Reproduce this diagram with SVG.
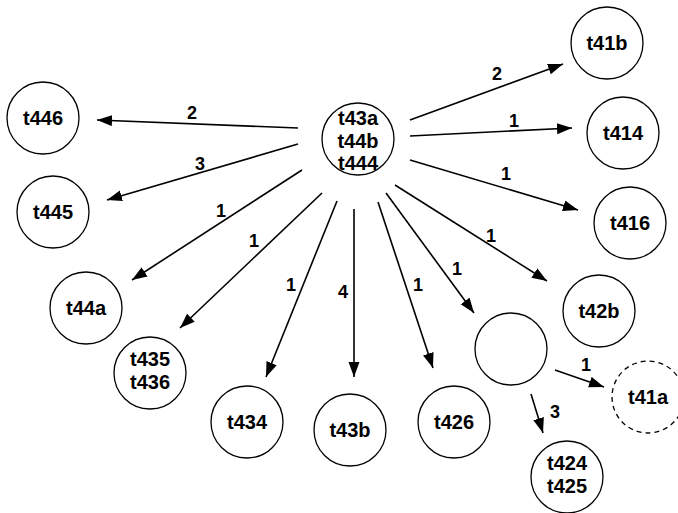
<svg xmlns="http://www.w3.org/2000/svg" width="678" height="513" viewBox="0 0 678 513">
<style>
.n{fill:#fff;stroke:#000;stroke-width:1.3}
.d{fill:#fff;stroke:#000;stroke-width:1.3;stroke-dasharray:5,4}
.t{font-family:"Liberation Sans",Arial,sans-serif;font-weight:bold;font-size:20px;text-anchor:middle;fill:#000}
.l{font-family:"Liberation Sans",Arial,sans-serif;font-weight:bold;font-size:18px;text-anchor:middle;fill:#000}
.e{stroke:#000;stroke-width:1.6;fill:none;marker-end:url(#ah)}
</style>
<defs>
<marker id="ah" markerUnits="userSpaceOnUse" markerWidth="16" markerHeight="12" refX="15" refY="5.5" orient="auto">
<path d="M0,0 L15,5.5 L0,11 z" fill="#000"/>
</marker>
</defs>
<g id="connectors">
<line class="e" x1="298" y1="128" x2="97" y2="120"/>
<line class="e" x1="298" y1="144" x2="107" y2="200"/>
<line class="e" x1="302" y1="170" x2="132" y2="280"/>
<line class="e" x1="322" y1="193" x2="180" y2="328"/>
<line class="e" x1="337" y1="201" x2="266" y2="377"/>
<line class="e" x1="354" y1="209" x2="354" y2="377"/>
<line class="e" x1="378" y1="202" x2="433" y2="368"/>
<line class="e" x1="386" y1="193" x2="474" y2="313"/>
<line class="e" x1="395" y1="185" x2="547" y2="281"/>
<line class="e" x1="410" y1="160" x2="578" y2="210"/>
<line class="e" x1="410" y1="136" x2="572" y2="128"/>
<line class="e" x1="410" y1="120" x2="563" y2="64"/>
<line class="e" x1="555" y1="370" x2="604" y2="387"/>
<line class="e" x1="531" y1="394" x2="543" y2="433"/>
<text class="l" x="192" y="119">2</text>
<text class="l" x="200" y="170">3</text>
<text class="l" x="221" y="217">1</text>
<text class="l" x="254" y="247">1</text>
<text class="l" x="291" y="291">1</text>
<text class="l" x="343" y="298">4</text>
<text class="l" x="418" y="291">1</text>
<text class="l" x="457" y="275">1</text>
<text class="l" x="491" y="242">1</text>
<text class="l" x="506" y="180">1</text>
<text class="l" x="514" y="127">1</text>
<text class="l" x="497" y="80">2</text>
<text class="l" x="586" y="371">1</text>
<text class="l" x="555" y="418">3</text>
</g>
<g id="center"><circle class="n" cx="358" cy="139" r="36"/><text class="t" x="358" y="125">t43a</text><text class="t" x="358" y="148">t44b</text><text class="t" x="358" y="170">t444</text></g>
<g id="t41b"><circle class="n" cx="607" cy="43" r="36"/><text class="t" x="607" y="50">t41b</text></g>
<g id="t414"><circle class="n" cx="623" cy="133" r="36"/><text class="t" x="623" y="140">t414</text></g>
<g id="t416"><circle class="n" cx="630" cy="223" r="36"/><text class="t" x="630" y="230">t416</text></g>
<g id="t446"><circle class="n" cx="43" cy="118" r="36"/><text class="t" x="43" y="125">t446</text></g>
<g id="t445"><circle class="n" cx="53" cy="212" r="36"/><text class="t" x="53" y="219">t445</text></g>
<g id="t44a"><circle class="n" cx="86" cy="308" r="36"/><text class="t" x="86" y="315">t44a</text></g>
<g id="t435"><circle class="n" cx="150" cy="373" r="36"/><text class="t" x="150" y="366">t435</text><text class="t" x="150" y="389">t436</text></g>
<g id="t434"><circle class="n" cx="247" cy="422" r="36"/><text class="t" x="247" y="429">t434</text></g>
<g id="t43b"><circle class="n" cx="350" cy="430" r="36"/><text class="t" x="350" y="437">t43b</text></g>
<g id="t426"><circle class="n" cx="454" cy="422" r="36"/><text class="t" x="454" y="429">t426</text></g>
<g id="empty"><circle class="n" cx="511" cy="349" r="36"/></g>
<g id="t42b"><circle class="n" cx="599" cy="311" r="36"/><text class="t" x="599" y="318">t42b</text></g>
<g id="t41a"><circle class="d" cx="648" cy="397" r="36"/><text class="t" x="648" y="404">t41a</text></g>
<g id="t424"><circle class="n" cx="567" cy="477" r="36"/><text class="t" x="567" y="470">t424</text><text class="t" x="567" y="493">t425</text></g>
</svg>
